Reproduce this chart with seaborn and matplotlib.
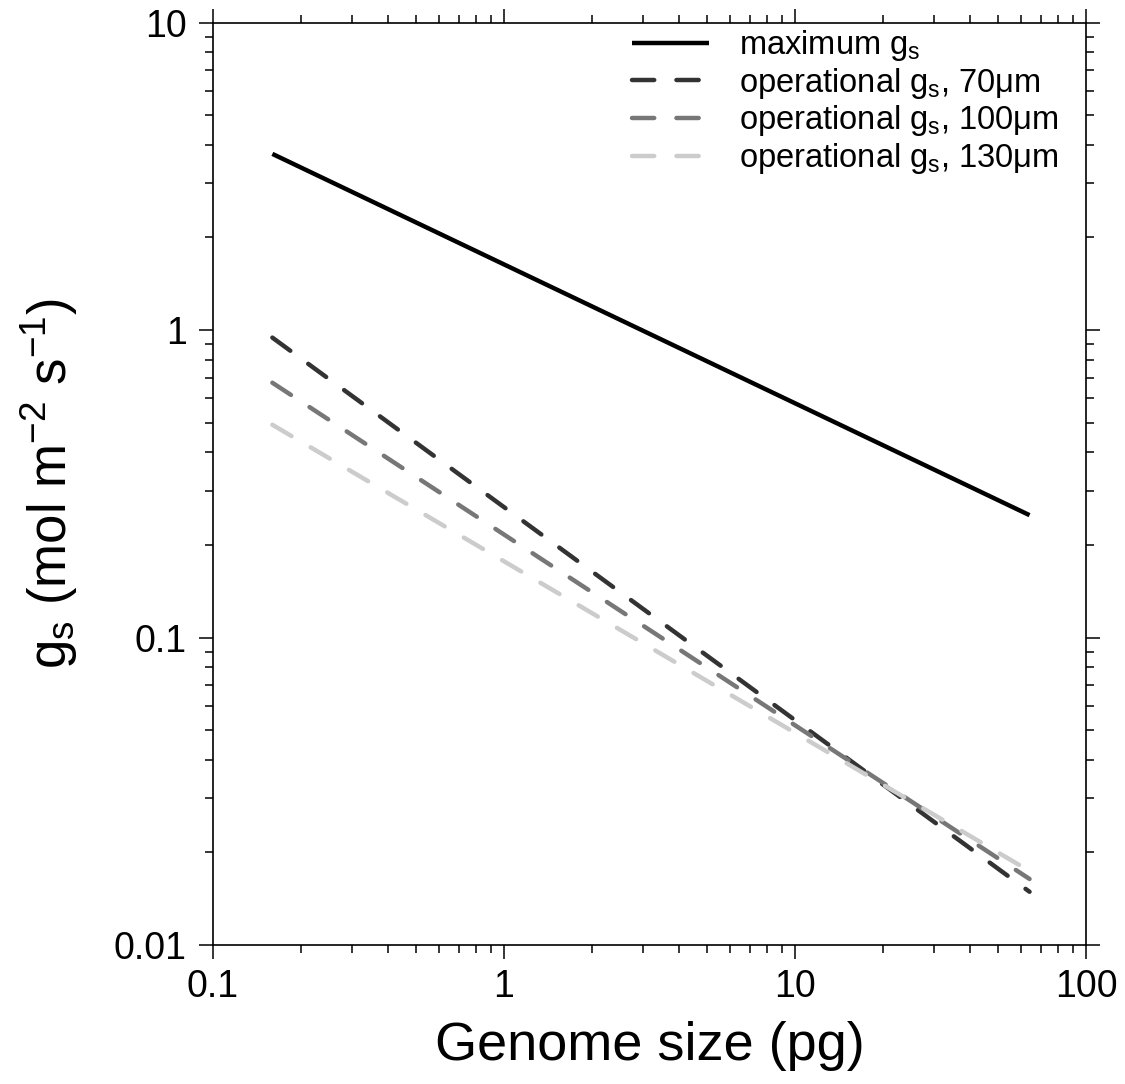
import numpy as np
import pandas as pd
import matplotlib
matplotlib.use("Agg")
import matplotlib.pyplot as plt
import seaborn as sns

# values (log-log straight lines, end points)
genome = [0.16, 64.0]
max_gs = [3.74, 0.25]
op_70 = [0.945, 0.0149]
op_100 = [0.674, 0.0164]
op_130 = [0.492, 0.0174]

labels = ["maximum g$_\\mathregular{s}$",
          "operational g$_\\mathregular{s}$, 70\u03bcm",
          "operational g$_\\mathregular{s}$, 100\u03bcm",
          "operational g$_\\mathregular{s}$, 130\u03bcm"]
colors = ["#000000", "#333333", "#777777", "#cccccc"]
styles = ["-", (0, (5, 5)), (0, (5, 5)), (0, (5, 5))]

sns.set_theme(style="ticks")
plt.rcParams["font.family"] = ["Liberation Sans", "DejaVu Sans"]
plt.rcParams["mathtext.fontset"] = "custom"
plt.rcParams["mathtext.rm"] = "Liberation Sans"
plt.rcParams["mathtext.it"] = "Liberation Sans"
plt.rcParams["text.color"] = "black"
plt.rcParams["axes.labelcolor"] = "black"
plt.rcParams["xtick.color"] = "black"
plt.rcParams["ytick.color"] = "black"

fig = plt.figure(figsize=(11.25, 10.84), dpi=100)
ax = fig.add_axes([0.1893, 0.1282, 0.776, 0.851])

for yv, lab, col, ls in zip([max_gs, op_70, op_100, op_130],
                            labels, colors, styles):
    df = pd.DataFrame({"genome": genome, "gs": yv})
    sns.lineplot(data=df, x="genome", y="gs", ax=ax, color=col,
                 linestyle=ls, linewidth=3.2, label=lab,
                 dash_capstyle="round", solid_capstyle="butt")

ax.set_xscale("log")
ax.set_yscale("log")
ax.set_xlim(0.1, 100)
ax.set_ylim(0.01, 10)
ax.set_xticks([0.1, 1, 10, 100])
ax.set_xticklabels(["0.1", "1", "10", "100"])
ax.set_yticks([0.01, 0.1, 1, 10])
ax.set_yticklabels(["0.01", "0.1", "1", "10"])

for s in ax.spines.values():
    s.set_visible(True)
    s.set_linewidth(1.2)
    s.set_color("black")
ax.tick_params(which="both", direction="out", top=True, right=True,
               width=1.1, labelsize=27)
ax.tick_params(axis="y", pad=9)
ax.tick_params(axis="x", pad=7)
ax.tick_params(which="major", length=10)
ax.tick_params(which="minor", length=5.5)

ax.set_xlabel("Genome size (pg)", fontsize=39, labelpad=12)
ax.set_ylabel("g$_\\mathregular{s}$ (mol m$^{\\mathregular{-2}}$ "
              "s$^{\\mathregular{-1}}$)", fontsize=38, labelpad=24)

ax.legend(loc="upper right", bbox_to_anchor=(0.984, 1.008), frameon=False,
          fontsize=23.5, handlelength=2.35, handletextpad=0.93,
          labelspacing=0.08, borderaxespad=0)

fig.savefig("out.png", dpi=100)
